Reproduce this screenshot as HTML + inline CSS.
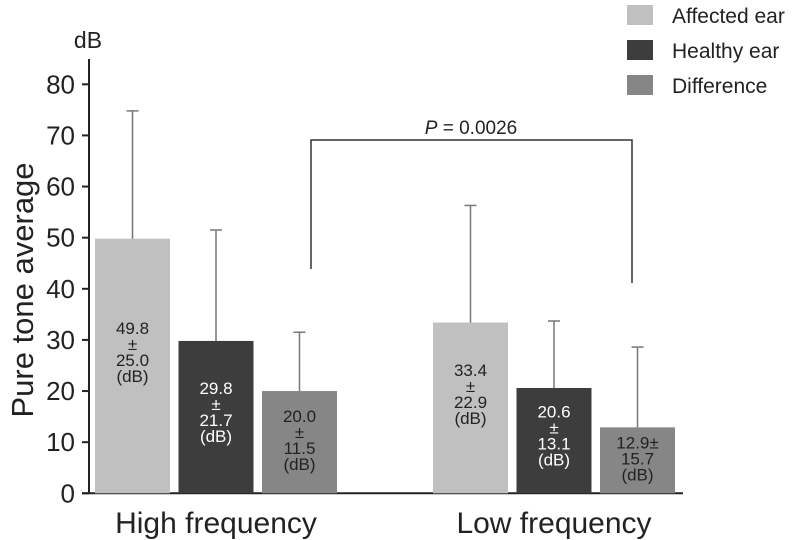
<!DOCTYPE html>
<html><head><meta charset="utf-8"><style>
body{margin:0;background:#fff}
svg{display:block;font-family:"Liberation Sans",Arial,sans-serif}
</style></head><body>
<svg width="800" height="540" viewBox="0 0 800 540">
<g id="chart"></g>
</svg>
<script>
const groups = ["High frequency","Low frequency"];
const seriesNames = ["Affected ear","Healthy ear","Difference"];
const affected = [49.8, 33.4];
const healthy = [29.8, 20.6];
const difference = [20.0, 12.9];
const affectedSD = [25.0, 22.9];
const healthySD = [21.7, 13.1];
const differenceSD = [11.5, 15.7];
const yTicks = [0,10,20,30,40,50,60,70,80];
const pLabel = "P";
const pValue = " = 0.0026";

const NS="http://www.w3.org/2000/svg";
const g=document.getElementById('chart');
function el(t,a,p){const e=document.createElementNS(NS,t);for(const k in a)e.setAttribute(k,a[k]);(p||g).appendChild(e);return e;}
const y0=493.3, pxPer=(493.3-84.3)/80;
function Y(v){return y0-v*pxPer;}
const groupStart=[95,433], barW=75, barStep=83.5;
function X(gi,si){return groupStart[gi]+si*barStep;}
const colors=["#c0c0c0","#3d3d3d","#868686"];
const textColors=["#222","#fff","#222"];
const vals=[affected,healthy,difference], sds=[affectedSD,healthySD,differenceSD];

let a=el('line',{x1:89,y1:59,x2:89,y2:y0,stroke:'#222','stroke-width':2});

a=el('line',{x1:82,y1:y0,x2:683,y2:y0,stroke:'#222','stroke-width':2});

yTicks.forEach(v=>{
  const t=el('line',{x1:82,y1:Y(v),x2:89,y2:Y(v),stroke:'#222','stroke-width':2});
  
  const l=el('text',{x:75,y:Y(v)+9,'text-anchor':'end','font-size':26,fill:'#222'});
  l.textContent=v;
  
});
let t=el('text',{x:88,y:48,'text-anchor':'middle','font-size':23,fill:'#222'});t.textContent='dB';

t=el('text',{x:0,y:0,'text-anchor':'middle','font-size':31,fill:'#222',transform:'translate(33,290) rotate(-90)'});t.textContent='Pure tone average';


groups.forEach((gn,gi)=>{
  vals.forEach((arr,si)=>{
    const x=X(gi,si), v=arr[gi], sd=sds[si][gi], cx=x+barW/2;
    const b=el('rect',{x:x,y:Y(v),width:barW,height:y0-Y(v),fill:colors[si]});
    
    const e=el('line',{x1:cx,y1:Y(v),x2:cx,y2:Y(v+sd),stroke:'#777','stroke-width':1.5});
    
    const c=el('line',{x1:cx-6,y1:Y(v+sd),x2:cx+6,y2:Y(v+sd),stroke:'#777','stroke-width':1.5});
    
    let lines=[v.toFixed(1),'±',sd.toFixed(1),'(dB)'];
    const h=y0-Y(v);
    if(h<75) lines=[v.toFixed(1)+'±',sd.toFixed(1),'(dB)'];
    const lh=16;
    let center=(Y(v)+y0)/2 - (si===0?14:(si===1?5:2));
    const first=center-(lines.length-1)*lh/2+6;
    lines.forEach((s,i)=>{
      const tx=el('text',{x:cx,y:first+i*lh,'text-anchor':'middle','font-size':17,fill:textColors[si]});
      tx.textContent=s;
      
    });
  });
  const cl=el('text',{x:X(gi,1)+barW/2,y:533,'text-anchor':'middle','font-size':30,fill:'#222'});
  cl.textContent=gn;
  
});

const br=el('polyline',{points:'311,269 311,140 632,140 632,283',fill:'none',stroke:'#333','stroke-width':1.5});

const pt=el('text',{x:471,y:134,'text-anchor':'middle','font-size':19,fill:'#222'});
const ts=el('tspan',{'font-style':'italic'},pt);ts.textContent=pLabel;
const ts2=el('tspan',{},pt);ts2.textContent=pValue;


seriesNames.forEach((n,i)=>{
  const yy=5+i*35;
  const r=el('rect',{x:627,y:yy,width:26,height:20,fill:colors[i]});
  
  const lt=el('text',{x:672,y:yy+18,'font-size':21,fill:'#222'});
  lt.textContent=n;
  
});
</script>
</body></html>
